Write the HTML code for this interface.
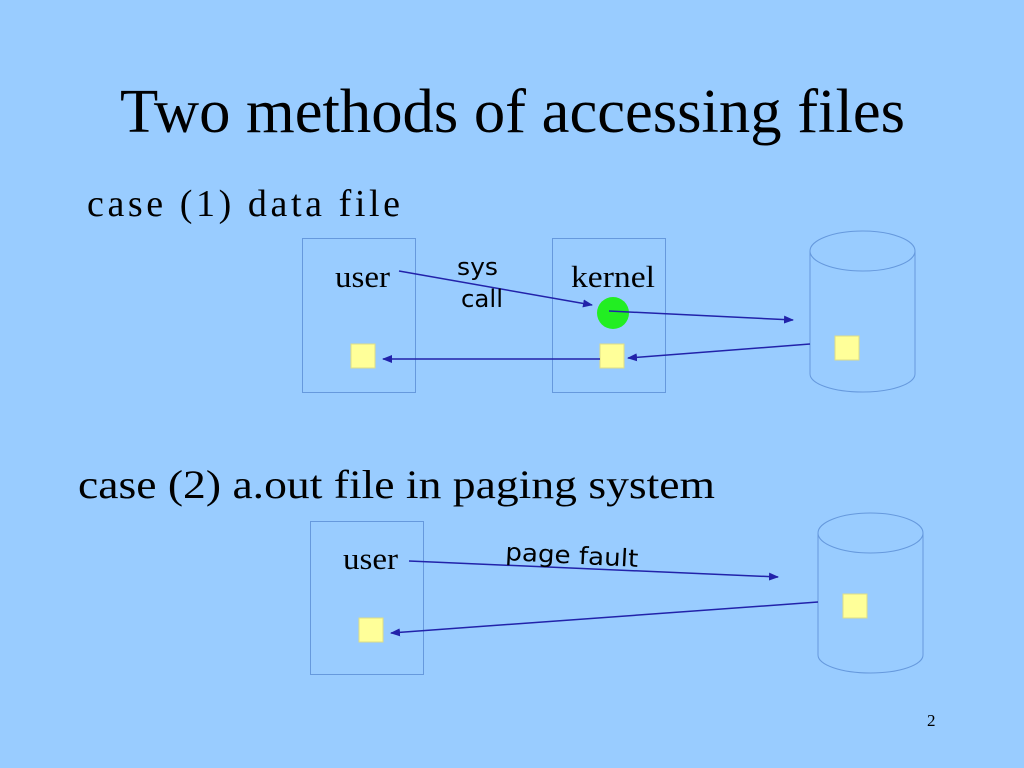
<!DOCTYPE html>
<html><head><meta charset="utf-8"><style>
html,body{margin:0;padding:0;background:#99CCFF;}
svg{display:block}
</style></head><body>
<svg width="1024" height="768" viewBox="0 0 1024 768" xmlns="http://www.w3.org/2000/svg">
<defs>
<marker id="a" markerWidth="10" markerHeight="8" refX="9" refY="4" orient="auto" markerUnits="userSpaceOnUse">
<path d="M0,0 L10,4 L0,8 z" fill="#2222AA"/></marker>
</defs>
<rect width="1024" height="768" fill="#99CCFF"/>
<g font-family="Liberation Serif, serif" fill="#000">
<text x="120" y="132" font-size="62" textLength="785" lengthAdjust="spacingAndGlyphs">Two methods of accessing files</text>
<text x="87" y="216" font-size="38" textLength="313" lengthAdjust="spacing">case (1)  data file</text>
<text x="78" y="498" font-size="40" textLength="637" lengthAdjust="spacingAndGlyphs">case (2) a.out file in paging system</text>
<text x="335" y="287" font-size="31" textLength="55" lengthAdjust="spacingAndGlyphs">user</text>
<text x="571" y="287" font-size="31" textLength="84" lengthAdjust="spacingAndGlyphs">kernel</text>
<text x="343" y="569" font-size="31" textLength="55" lengthAdjust="spacingAndGlyphs">user</text>
<text x="927" y="726" font-size="17">2</text>
</g>
<g fill="none" stroke="#6699DD" stroke-width="1">
<rect x="302.5" y="238.5" width="113" height="154"/>
<rect x="552.5" y="238.5" width="113" height="154"/>
<rect x="310.5" y="521.5" width="113" height="153"/>
<path d="M810,251 L810,374 A52.5,18 0 0 0 915,374 L915,251"/>
<ellipse cx="862.5" cy="251" rx="52.5" ry="20"/>
<path d="M818,533 L818,655 A52.5,18 0 0 0 923,655 L923,533"/>
<ellipse cx="870.5" cy="533" rx="52.5" ry="20"/>
</g>
<g fill="#FFFF99" stroke="#DDDD88" stroke-width="1">
<rect x="351" y="344" width="24" height="24"/>
<rect x="600" y="344" width="24" height="24"/>
<rect x="835" y="336" width="24" height="24"/>
<rect x="359" y="618" width="24" height="24"/>
<rect x="843" y="594" width="24" height="24"/>
</g>
<circle cx="613" cy="313" r="16" fill="#22EE22"/>
<g stroke="#2222AA" stroke-width="1.5" marker-end="url(#a)">
<line x1="399" y1="271" x2="592" y2="305"/>
<line x1="609" y1="311" x2="793" y2="320"/>
<line x1="810" y1="344" x2="628" y2="358"/>
<line x1="600" y1="359" x2="383" y2="359"/>
<line x1="409" y1="561" x2="778" y2="577"/>
<line x1="818" y1="602" x2="391" y2="633"/>
</g>
<g font-family="DejaVu Sans, sans-serif" font-size="24" fill="#000">
<text x="457" y="275" textLength="41" lengthAdjust="spacingAndGlyphs">sys</text>
<text x="461" y="307" textLength="42" lengthAdjust="spacingAndGlyphs">call</text>
<text x="505" y="560" transform="rotate(3 505 560)" textLength="133" lengthAdjust="spacingAndGlyphs">page fault</text>
</g>
</svg>
</body></html>
